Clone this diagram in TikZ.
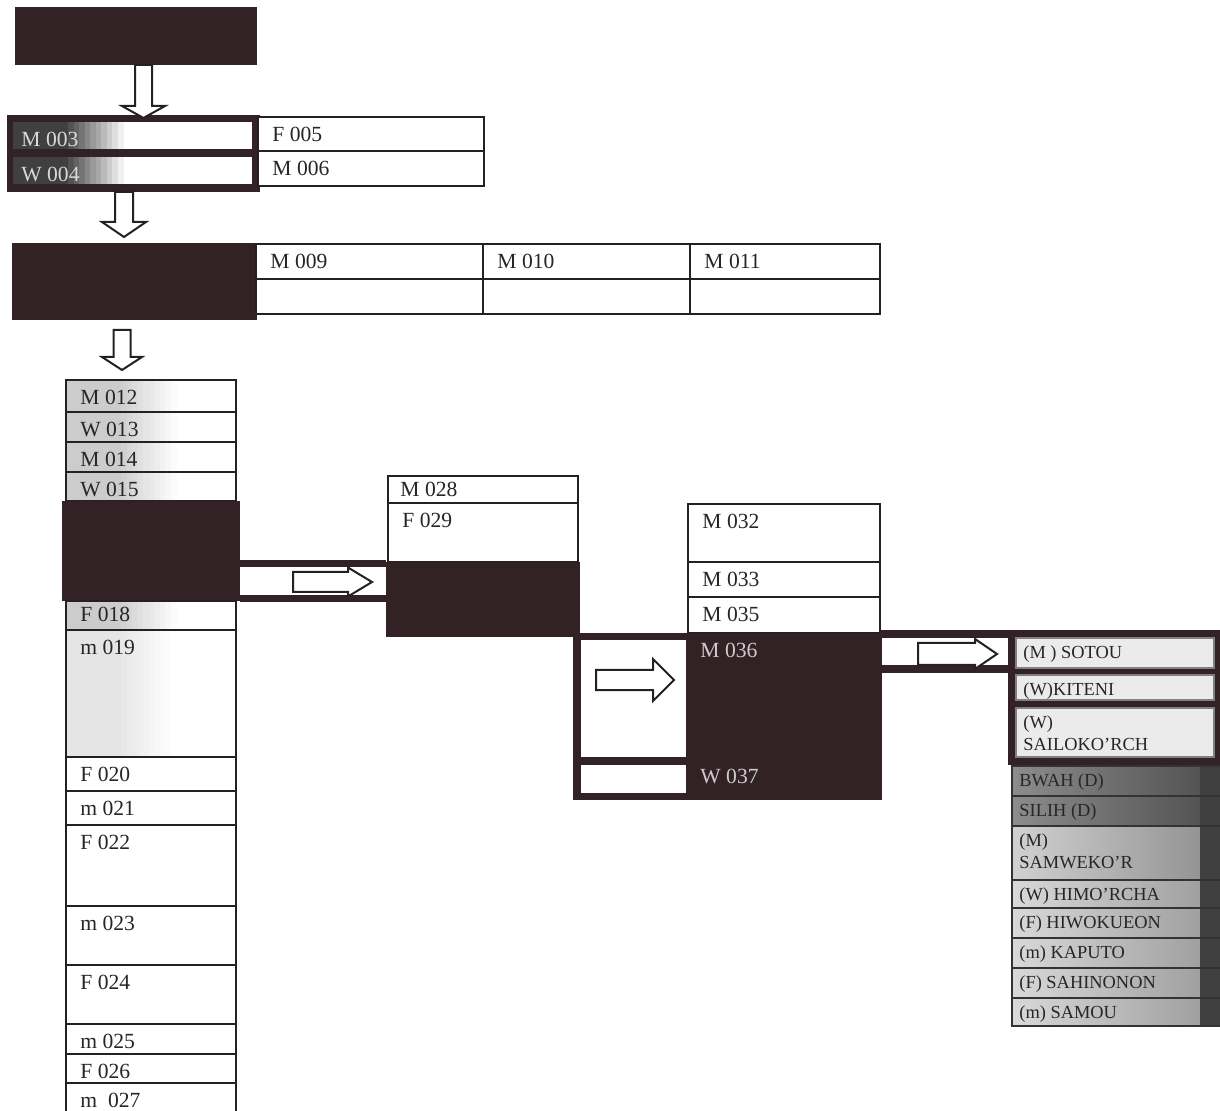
\documentclass[tikz,border=0pt]{standalone}
\usepackage{fontspec}
\setmainfont{Liberation Serif}
\usetikzlibrary{calc, fit}
\definecolor{redact}{RGB}{50,34,38}
\definecolor{inkline}{RGB}{38,32,32}
\newcommand{\cellfont}{\fontsize{10.8}{13}\selectfont}
\newcommand{\listfont}{\fontsize{9.2}{11}\selectfont}

% table cell with its label
\newcommand{\tcell}[7][]{%
  \node[cell, fit={(#3,#4) (#5,#6)}, #1] (#2) {};
  \node[ctext] (#2-t) at (#2.north west) {#7};}
% hollow block arrows: start, tip, shaft half width, head half width, head length
\newcommand{\fatdown}[5]{%
  \draw[hollow] ($(#1)+(-#3,0)$) -- ($(#2)+(-#3,-#5)$) -- ($(#2)+(-#4,-#5)$) -- (#2)
    -- ($(#2)+(#4,-#5)$) -- ($(#2)+(#3,-#5)$) -- ($(#1)+(#3,0)$) -- cycle;}
\newcommand{\fatright}[5]{%
  \draw[hollow] ($(#1)+(0,-#3)$) -- ($(#2)+(-#5,-#3)$) -- ($(#2)+(-#5,-#4)$) -- (#2)
    -- ($(#2)+(-#5,#4)$) -- ($(#2)+(-#5,#3)$) -- ($(#1)+(0,#3)$) -- cycle;}

\begin{document}
\begin{tikzpicture}[
  x=0.5pt, y=-0.5pt,
  cell/.style={draw=inkline, line width=0.7pt, fill=white, inner sep=0pt, outer sep=0pt},
  redbox/.style={fill=redact, draw=none, inner sep=0pt, outer sep=0pt},
  ctext/.style={anchor=north west, inner sep=0pt, font=\cellfont, text=black!85,
                align=left, xshift=7pt, yshift=-5pt},
  hollow/.style={draw=inkline, fill=white, line width=1pt, line join=miter},
  % stepped grey at the left end of a cell
  fadeleft/.style 2 args={path picture={\foreach \k in {0,...,19} {%
      \pgfmathtruncatemacro{\pct}{#2*min(1,(20-\k)/11)}
      \fill[#1!\pct!white] ($(path picture bounding box.south west)+(\k*5.5,0)$)
        rectangle ($(path picture bounding box.north west)+(\k*5.5+6,0)$);}}},
  darkedge/.style={path picture={\fill[black!75]
      ($(path picture bounding box.north east)+(-24,0)$) rectangle (path picture bounding box.south east);}},
  listrow/.style 2 args={cell, line width=1.2pt, draw=black!80, left color=#1, right color=#2, darkedge}
]
\useasboundingbox (0,0) rectangle (1220,1111);
\clip (0,0) rectangle (1220,1111);

% first generations
\node[redbox, fit={(15,7) (257,65)}] (head) {};
\node[redbox, fit={(7,115) (260,192)}] (pair) {};
\begin{scope}[ctext/.append style={text=white!85!black, xshift=-3pt}]
\tcell[draw=none, fadeleft={black}{75}]{m003}{13}{122}{252}{149}{M 003}
\tcell[draw=none, fadeleft={black}{75}]{w004}{13}{157}{252}{184}{W 004}
\end{scope}
\tcell{f005}{258}{117}{484}{151}{F 005}
\tcell{m006}{258}{151}{484}{186}{M 006}

\node[redbox, fit={(12,243) (257,320)}] (clan) {};
\tcell{m009}{256}{244}{483}{279}{M 009}
\tcell{m010}{483}{244}{690}{279}{M 010}
\tcell{m011}{690}{244}{880}{279}{M 011}
\node[cell, fit={(256,279) (483,314)}] (e009) {};
\node[cell, fit={(483,279) (690,314)}] (e010) {};
\node[cell, fit={(690,279) (880,314)}] (e011) {};

% long column
\tcell[fadeleft={black}{20}]{m012}{66}{380}{236}{412}{M 012}
\tcell[fadeleft={black}{20}]{w013}{66}{412}{236}{442}{W 013}
\tcell[fadeleft={black}{20}]{m014}{66}{442}{236}{472}{M 014}
\tcell[fadeleft={black}{20}]{w015}{66}{472}{236}{501}{W 015}
\node[redbox, fit={(62,501) (240,601)}] (line1) {};
\begin{scope}[ctext/.append style={yshift=2pt}]
\tcell[fadeleft={black}{20}]{f018}{66}{601}{236}{630}{F 018}
\end{scope}
\tcell[fadeleft={black}{10}]{m019}{66}{630}{236}{757}{m 019}
\tcell{f020}{66}{757}{236}{791}{F 020}
\tcell{m021}{66}{791}{236}{825}{m 021}
\tcell{f022}{66}{825}{236}{906}{F 022}
\tcell{m023}{66}{906}{236}{965}{m 023}
\tcell{f024}{66}{965}{236}{1024}{F 024}
\tcell{m025}{66}{1024}{236}{1054}{m 025}
\tcell{f026}{66}{1054}{236}{1083}{F 026}
\tcell{m027}{66}{1083}{236}{1120}{m~ 027}

% second branch
\fill[redact] (240,560) rectangle (386,602);
\fill[white] (240,567) rectangle (386,595);
\begin{scope}[ctext/.append style={xshift=-1pt, yshift=2pt}]
\tcell{m028}{388}{476}{578}{503}{M 028}
\end{scope}
\tcell{f029}{388}{503}{578}{562}{F 029}
\node[redbox, fit={(386,562) (580,637)}] (line2) {};

% third branch
\fill[redact] (573,633) rectangle (688,800);
\fill[white] (581,640) rectangle (688,757);
\fill[white] (581,765) rectangle (688,793);
\tcell{m032}{688}{504}{880}{562}{M 032}
\tcell{m033}{688}{562}{880}{597}{M 033}
\tcell{m035}{688}{597}{880}{633}{M 035}
\node[redbox, fit={(686,633) (882,800)}] (line3) {};
\node[ctext, text=white!80!black] (m036) at (line3.north west) {M 036};
\node[ctext, text=white!80!black, yshift=-63pt] (w037) at (line3.north west) {W 037};

% names list
\fill[redact] (880,630) rectangle (1010,673);
\fill[white] (882,638) rectangle (1010,665);
\node[redbox, fit={(1008,630) (1220,765)}] (line4) {};
\begin{scope}[ctext/.append style={font=\listfont, xshift=-3.5pt, yshift=1.5pt}]
\tcell[draw=black!50, fill=black!8]{sotou}{1016}{638}{1214}{668}{(M ) SOTOU}
\tcell[draw=black!50, fill=black!8]{kiteni}{1016}{675}{1214}{700}{(W)KITENI}
\tcell[draw=black!50, fill=black!8]{sailo}{1016}{708}{1214}{757}{(W)\\SAILOKO'RCH}
\tcell[listrow={black!45}{black!70}]{bwah}{1012}{766}{1224}{796}{BWAH (D)}
\tcell[listrow={black!45}{black!70}]{silih}{1012}{796}{1224}{826}{SILIH (D)}
\tcell[listrow={black!18}{black!45}]{samw}{1012}{826}{1224}{880}{(M)\\SAMWEKO'R}
\tcell[listrow={black!15}{black!40}]{himo}{1012}{880}{1224}{908}{(W) HIMO'RCHA}
\tcell[listrow={black!15}{black!40}]{hiwo}{1012}{908}{1224}{938}{(F) HIWOKUEON}
\tcell[listrow={black!15}{black!40}]{kapu}{1012}{938}{1224}{968}{(m) KAPUTO}
\tcell[listrow={black!15}{black!40}]{sahi}{1012}{968}{1224}{998}{(F) SAHINONON}
\tcell[listrow={black!15}{black!40}]{samo}{1012}{998}{1224}{1026}{(m) SAMOU}
\end{scope}

% block arrows
\coordinate (a1s) at (143.5,65);  \coordinate (a1e) at (143.5,118);
\coordinate (a2s) at (124,192);   \coordinate (a2e) at (124,237);
\coordinate (a3s) at (122,330);   \coordinate (a3e) at (122,370);
\coordinate (b1s) at (293,582);   \coordinate (b1e) at (372,582);
\coordinate (b2s) at (596,680);   \coordinate (b2e) at (674,680);
\coordinate (b3s) at (918,654);   \coordinate (b3e) at (997,654);
\fatdown{a1s}{a1e}{8.5}{21.5}{12}
\fatdown{a2s}{a2e}{9}{22}{15}
\fatdown{a3s}{a3e}{8.5}{20}{13}
\fatright{b1s}{b1e}{10}{14.5}{24}
\fatright{b2s}{b2e}{10}{21}{21}
\fatright{b3s}{b3e}{11}{15}{22}
\end{tikzpicture}
\end{document}
